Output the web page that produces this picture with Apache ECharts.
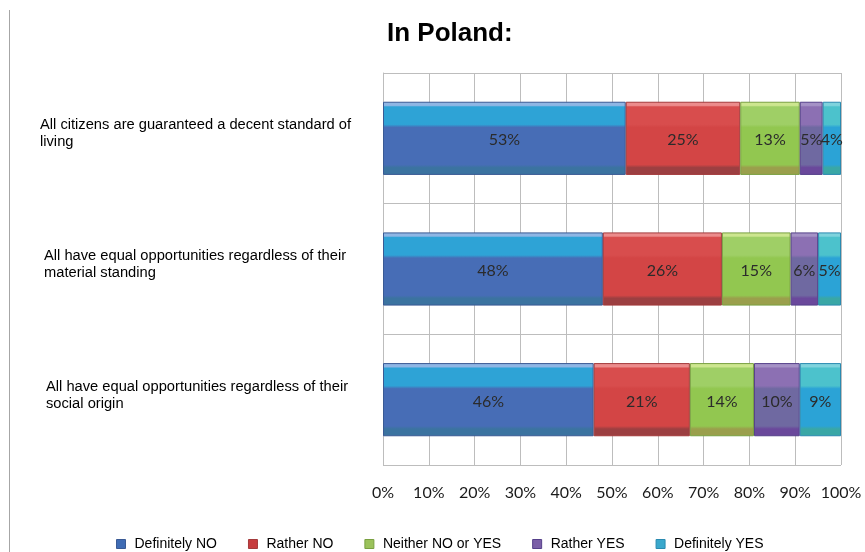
<!DOCTYPE html>
<html>
<head>
<meta charset="utf-8">
<script src="https://cdn.jsdelivr.net/npm/echarts@6/dist/echarts.min.js"></script>
<style>
  html, body { margin: 0; padding: 0; background: #ffffff; }
  #chart { width: 865px; height: 552px; }
</style>
</head>
<body>
<div id="chart"></div>
<script>
// Survey statements (top to bottom)
const statements = [
  'All citizens are guaranteed a decent standard of\nliving',
  'All have equal opportunities regardless of their\nmaterial standing',
  'All have equal opportunities regardless of their\nsocial origin'
];

// Answer categories
const answers = ['Definitely NO', 'Rather NO', 'Neither NO or YES', 'Rather YES', 'Definitely YES'];

// Share of answers (%) per statement, same order as statements
const definitelyNo = [53, 48, 46];
const ratherNo     = [25, 26, 21];
const neither      = [13, 15, 14];
const ratherYes    = [5, 6, 10];
const definitelyYes = [4, 5, 9];

// Percentage axis ticks
const axisTicks = [0, 10, 20, 30, 40, 50, 60, 70, 80, 90, 100];

const seriesValues = [definitelyNo, ratherNo, neither, ratherYes, definitelyYes];

// Bevelled look: light rim, lighter top band, main body, darker bottom edge
function bevel(rim, band, body, bottom) {
  return new echarts.graphic.LinearGradient(0, 0, 0, 1, [
    { offset: 0, color: rim },
    { offset: 0.05, color: rim },
    { offset: 0.07, color: band },
    { offset: 0.31, color: band },
    { offset: 0.35, color: body },
    { offset: 0.86, color: body },
    { offset: 0.9, color: bottom },
    { offset: 1, color: bottom }
  ]);
}

const styles = [
  { fill: bevel('#8fb6e4', '#2ea3d6', '#476db6', '#3b73a0'), border: '#3a5a94', legend: '#3f6cb4' },
  { fill: bevel('#ec8c8c', '#d84d4d', '#d34545', '#9c3f41'), border: '#a33a3b', legend: '#c73c3e' },
  { fill: bevel('#cde68f', '#9fcf66', '#92c750', '#9a9f4c'), border: '#79a040', legend: '#9bc25b' },
  { fill: bevel('#a592c6', '#8c70b3', '#6f69a1', '#6a489b'), border: '#55408a', legend: '#7b5fa8' },
  { fill: bevel('#7fd3dd', '#4cc2cc', '#2ba3d6', '#39a7a6'), border: '#2a8ab0', legend: '#3aa8cc' }
];

// Reverse so the first statement is drawn at the top
const cats = statements.slice().reverse();

const series = answers.map((name, i) => ({
  name: name,
  type: 'bar',
  stack: 'total',
  barWidth: '56%',
  data: seriesValues[i].slice().reverse(),
  itemStyle: {
    color: styles[i].fill,
    borderColor: styles[i].border,
    borderWidth: 1
  },
  label: {
    show: true,
    position: 'inside',
    offset: [0, 2],
    formatter: '{c}%',
    color: '#2b2b2b',
    fontFamily: 'Lato, "Open Sans", sans-serif',
    fontSize: 16
  },
  emphasis: { disabled: true }
}));

const labelIndent = [6, 4, 0]; // bottom-to-top order of cats

const labelStyle = {
  align: 'left',
  color: '#000000',
  fontFamily: '"Liberation Sans", Arial, sans-serif',
  fontSize: 14.7,
  lineHeight: 17
};

const chart = echarts.init(document.getElementById('chart'), null, { renderer: 'canvas' });
chart.setOption({
  animation: false,
  backgroundColor: '#ffffff',
  title: {
    text: 'In Poland:',
    left: 382,
    top: 16,
    textStyle: {
      fontFamily: '"Liberation Sans", Arial, sans-serif',
      fontWeight: 'bold',
      fontSize: 26,
      color: '#000000'
    }
  },
  legend: {
    data: answers.map((a, i) => ({ name: a, itemStyle: { color: styles[i].legend, borderColor: styles[i].border, borderWidth: 1 } })),
    left: 111,
    top: 532,
    icon: 'rect',
    itemWidth: 9,
    itemHeight: 9,
    itemGap: 31,
    textStyle: {
      fontFamily: '"Liberation Sans", Arial, sans-serif',
      fontSize: 14,
      color: '#000000',
      padding: [0, 0, 0, 4]
    }
  },
  grid: { left: 383, right: 24, top: 73, bottom: 87, containLabel: false, outerBoundsMode: 'none' },
  xAxis: {
    type: 'value',
    min: axisTicks[0],
    max: axisTicks[axisTicks.length - 1],
    interval: axisTicks[1] - axisTicks[0],
    axisLine: { show: false },
    axisTick: { show: false },
    splitLine: { show: true, lineStyle: { color: '#bdbdbd', width: 1 } },
    axisLabel: {
      formatter: '{value}%',
      margin: 20,
      hideOverlap: false,
      color: '#1a1a1a',
      fontFamily: 'Lato, "Open Sans", sans-serif',
      fontSize: 16
    }
  },
  yAxis: {
    type: 'category',
    data: cats.map((c, i) => ({
      value: c,
      textStyle: Object.assign({}, labelStyle, { padding: [0, 0, 0, labelIndent[i]] })
    })),
    axisLine: { show: true, lineStyle: { color: '#bdbdbd' } },
    axisTick: { show: false },
    splitLine: { show: true, lineStyle: { color: '#bdbdbd', width: 1 } },
    axisLabel: Object.assign({
      margin: 343,
      // a short empty trailing line lifts the two text lines slightly above the band centre
      formatter: v => v + '\n{gap|}',
      rich: { gap: { fontSize: 1, lineHeight: 9 } }
    }, labelStyle)
  },
  graphic: [
    {
      type: 'line',
      shape: { x1: 9.5, y1: 10, x2: 9.5, y2: 552 },
      style: { stroke: '#a6a6a6', lineWidth: 1 }
    },
    {
      type: 'line',
      shape: { x1: 383, y1: 73.5, x2: 841, y2: 73.5 },
      style: { stroke: '#bdbdbd', lineWidth: 1 }
    }
  ],
  series: series
});
</script>
</body>
</html>
